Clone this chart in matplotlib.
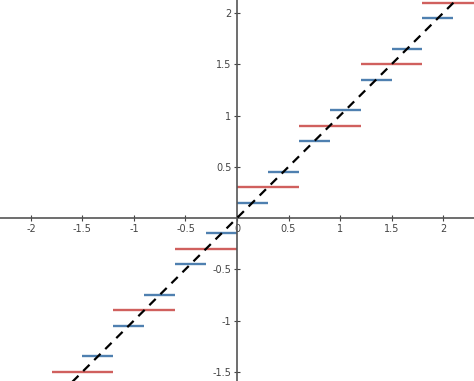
import numpy as np
import matplotlib
matplotlib.use('Agg')
import matplotlib.pyplot as plt

# Coarse steps (red): level, start, end
red_y = [-1.5, -0.9, -0.3, 0.3, 0.9, 1.5, 2.1]
red_x0 = [-1.8, -1.2, -0.6, 0.0, 0.6, 1.2, 1.8]
red_x1 = [-1.2, -0.6, 0.0, 0.6, 1.2, 1.8, 2.4]

# Fine steps (blue)
blue_y = [-1.35, -1.05, -0.75, -0.45, -0.15, 0.15, 0.45, 0.75, 1.05, 1.35, 1.65, 1.95]
blue_x0 = [-1.5, -1.2, -0.9, -0.6, -0.3, 0.0, 0.3, 0.6, 0.9, 1.2, 1.5, 1.8]
blue_x1 = [-1.2, -0.9, -0.6, -0.3, 0.0, 0.3, 0.6, 0.9, 1.2, 1.5, 1.8, 2.1]

# identity line
line_x = [-2.5, 2.5]
line_y = [-2.5, 2.5]

xticks = [-2, -1.5, -1, -0.5, 0, 0.5, 1, 1.5, 2]
yticks = [-1.5, -1, -0.5, 0.5, 1, 1.5, 2]

fig = plt.figure(figsize=(4.74, 3.81), dpi=100)
ax = fig.add_axes([0, 0, 1, 1])

ax.hlines(red_y, red_x0, red_x1, color='#d0605e', lw=1.7, zorder=2)
ax.hlines(blue_y, blue_x0, blue_x1, color='#4f80b0', lw=1.7, zorder=2)
ax.plot(line_x, line_y, color='black', ls=(0, (4, 3)), lw=1.6, zorder=3)

ax.set_xlim(-2.3, 2.3)
ax.set_ylim(-1.59, 2.127)

for side in ['top', 'right']:
    ax.spines[side].set_visible(False)
ax.spines['left'].set_position(('data', 0))
ax.spines['bottom'].set_position(('data', 0))
ax.spines['left'].set_color('#555555')
ax.spines['bottom'].set_color('#555555')
ax.spines['left'].set_linewidth(1.2)
ax.spines['bottom'].set_linewidth(1.2)

ax.set_xticks(xticks)
ax.set_xticklabels([f'{t:g}' for t in xticks])
ax.set_yticks(yticks)
ax.set_yticklabels([f'{t:g}' for t in yticks])
ax.tick_params(direction='inout', length=4, width=0.8, colors='#444444',
               labelsize=7, pad=2)

fig.savefig('out.png', dpi=100)
